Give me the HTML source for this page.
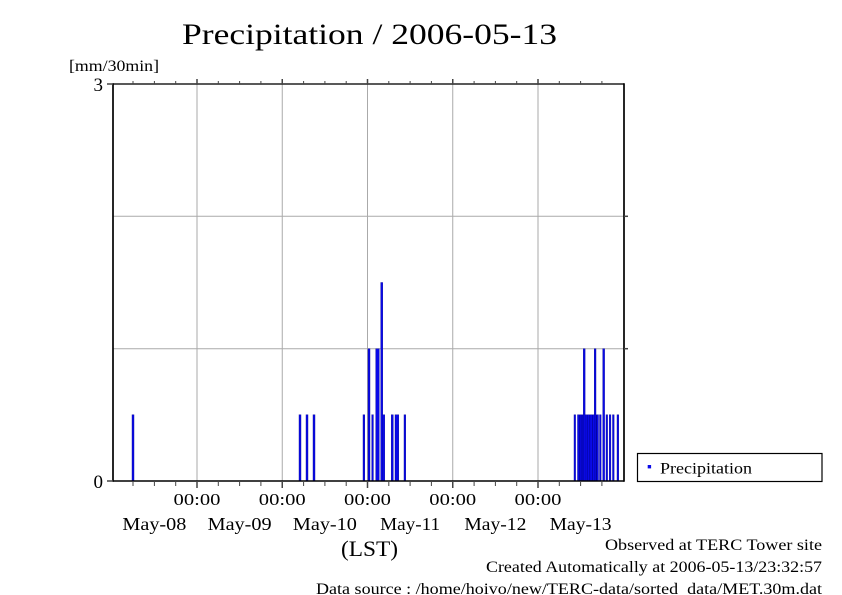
<!DOCTYPE html>
<html>
<head>
<meta charset="utf-8">
<style>
  html, body { margin:0; padding:0; background:#fff; }
  body { width:842px; height:595px; overflow:hidden; }
  svg { display:block; }
  text { font-family: "Liberation Serif", "DejaVu Serif", serif; fill:#000; }
</style>
</head>
<body>
<svg width="842" height="595" viewBox="0 0 842 595" xmlns="http://www.w3.org/2000/svg">
  <rect x="0" y="0" width="842" height="595" fill="#fff"/>

  <!-- Title -->
  <text x="182" y="44" font-size="30" textLength="375" lengthAdjust="spacingAndGlyphs">Precipitation / 2006-05-13</text>
  <!-- Y unit -->
  <text x="69" y="71" font-size="16" textLength="90" lengthAdjust="spacingAndGlyphs">[mm/30min]</text>

  <!-- gridlines -->
  <g stroke="#aaaaaa" stroke-width="1">
    <line x1="197" y1="84" x2="197" y2="481"/>
    <line x1="282.25" y1="84" x2="282.25" y2="481"/>
    <line x1="367.5" y1="84" x2="367.5" y2="481"/>
    <line x1="452.75" y1="84" x2="452.75" y2="481"/>
    <line x1="538" y1="84" x2="538" y2="481"/>
    <line x1="113" y1="216.3" x2="624" y2="216.3"/>
    <line x1="113" y1="348.7" x2="624" y2="348.7"/>
  </g>

  <!-- bars -->
  <g fill="#0a0ae8" stroke="#00009a" stroke-width="0.4">
    <rect x="132" y="414.8" width="2" height="66.2"/>
    <rect x="299" y="414.8" width="2" height="66.2"/>
    <rect x="306" y="414.8" width="2" height="66.2"/>
    <rect x="313" y="414.8" width="2" height="66.2"/>

    <rect x="363" y="414.8" width="1.8" height="66.2"/>
    <rect x="368" y="348.7" width="2" height="132.3"/>
    <rect x="371.7" y="414.8" width="1.7" height="66.2"/>
    <rect x="375.7" y="348.7" width="3.6" height="132.3"/>
    <rect x="380.7" y="282.5" width="2" height="198.5"/>
    <rect x="382.7" y="414.8" width="2" height="66.2"/>
    <rect x="391.3" y="414.8" width="2" height="66.2"/>
    <rect x="395" y="414.8" width="3.7" height="66.2"/>
    <rect x="404" y="414.8" width="1.7" height="66.2"/>

    <rect x="574" y="414.8" width="1.6" height="66.2"/>
    <rect x="577.5" y="414.8" width="21" height="66.2"/>
    <rect x="599.5" y="414.8" width="1.6" height="66.2"/>
    <rect x="606" y="414.8" width="1.6" height="66.2"/>
    <rect x="609.3" y="414.8" width="1.6" height="66.2"/>
    <rect x="612.5" y="414.8" width="1.6" height="66.2"/>
    <rect x="617" y="414.8" width="1.7" height="66.2"/>
    <rect x="583.3" y="348.7" width="1.8" height="132.3"/>
    <rect x="594.2" y="348.7" width="1.8" height="132.3"/>
    <rect x="602.8" y="348.7" width="1.8" height="132.3"/>
  </g>
  <!-- darker separators inside dense block -->
  <g stroke="#00008a" stroke-width="0.6">
    <line x1="579.3" y1="415" x2="579.3" y2="481"/>
    <line x1="581.1" y1="415" x2="581.1" y2="481"/>
    <line x1="582.9" y1="415" x2="582.9" y2="481"/>
    <line x1="587.2" y1="415" x2="587.2" y2="481"/>
    <line x1="589.8" y1="415" x2="589.8" y2="481"/>
    <line x1="592.5" y1="415" x2="592.5" y2="481"/>
    <line x1="596.6" y1="415" x2="596.6" y2="481"/>
  </g>

  <!-- frame -->
  <g stroke="#000" fill="none">
    <line x1="113" y1="84" x2="624" y2="84" stroke-width="1.5" stroke="#222"/>
    <line x1="113" y1="481" x2="624" y2="481" stroke-width="1.5"/>
    <line x1="113" y1="83.3" x2="113" y2="481.7" stroke-width="1.7"/>
    <line x1="624" y1="83.3" x2="624" y2="481.7" stroke-width="1.7"/>
  </g>

  <!-- ticks -->
  <g stroke="#444" stroke-width="1">
    <line x1="133" y1="481" x2="133" y2="486"/><line x1="133" y1="84" x2="133" y2="81"/>
    <line x1="154.4" y1="481" x2="154.4" y2="486"/><line x1="154.4" y1="84" x2="154.4" y2="81"/>
    <line x1="175.7" y1="481" x2="175.7" y2="486"/><line x1="175.7" y1="84" x2="175.7" y2="81"/>
    <line x1="218.3" y1="481" x2="218.3" y2="486"/><line x1="218.3" y1="84" x2="218.3" y2="81"/>
    <line x1="239.6" y1="481" x2="239.6" y2="486"/><line x1="239.6" y1="84" x2="239.6" y2="81"/>
    <line x1="260.9" y1="481" x2="260.9" y2="486"/><line x1="260.9" y1="84" x2="260.9" y2="81"/>
    <line x1="303.6" y1="481" x2="303.6" y2="486"/><line x1="303.6" y1="84" x2="303.6" y2="81"/>
    <line x1="324.9" y1="481" x2="324.9" y2="486"/><line x1="324.9" y1="84" x2="324.9" y2="81"/>
    <line x1="346.2" y1="481" x2="346.2" y2="486"/><line x1="346.2" y1="84" x2="346.2" y2="81"/>
    <line x1="388.8" y1="481" x2="388.8" y2="486"/><line x1="388.8" y1="84" x2="388.8" y2="81"/>
    <line x1="410.1" y1="481" x2="410.1" y2="486"/><line x1="410.1" y1="84" x2="410.1" y2="81"/>
    <line x1="431.4" y1="481" x2="431.4" y2="486"/><line x1="431.4" y1="84" x2="431.4" y2="81"/>
    <line x1="474.1" y1="481" x2="474.1" y2="486"/><line x1="474.1" y1="84" x2="474.1" y2="81"/>
    <line x1="495.4" y1="481" x2="495.4" y2="486"/><line x1="495.4" y1="84" x2="495.4" y2="81"/>
    <line x1="516.7" y1="481" x2="516.7" y2="486"/><line x1="516.7" y1="84" x2="516.7" y2="81"/>
    <line x1="559.3" y1="481" x2="559.3" y2="486"/><line x1="559.3" y1="84" x2="559.3" y2="81"/>
    <line x1="580.6" y1="481" x2="580.6" y2="486"/><line x1="580.6" y1="84" x2="580.6" y2="81"/>
    <line x1="601.9" y1="481" x2="601.9" y2="486"/><line x1="601.9" y1="84" x2="601.9" y2="81"/>
  </g>
  <g stroke="#444" stroke-width="1.5">
    <line x1="197" y1="481" x2="197" y2="488"/><line x1="197" y1="84" x2="197" y2="79"/>
    <line x1="282.25" y1="481" x2="282.25" y2="488"/><line x1="282.25" y1="84" x2="282.25" y2="79"/>
    <line x1="367.5" y1="481" x2="367.5" y2="488"/><line x1="367.5" y1="84" x2="367.5" y2="79"/>
    <line x1="452.75" y1="481" x2="452.75" y2="488"/><line x1="452.75" y1="84" x2="452.75" y2="79"/>
    <line x1="538" y1="481" x2="538" y2="488"/><line x1="538" y1="84" x2="538" y2="79"/>
    <line x1="107" y1="84" x2="113" y2="84"/>
    <line x1="107" y1="481" x2="113" y2="481"/>
    <line x1="624" y1="216.3" x2="628" y2="216.3"/>
    <line x1="624" y1="348.7" x2="628" y2="348.7"/>
  </g>

  <!-- y labels -->
  <text x="103" y="91" font-size="19" text-anchor="end">3</text>
  <text x="103" y="488" font-size="19" text-anchor="end">0</text>

  <!-- x labels -->
  <g font-size="17">
    <text x="173.5" y="505" textLength="47" lengthAdjust="spacingAndGlyphs">00:00</text>
    <text x="258.75" y="505" textLength="47" lengthAdjust="spacingAndGlyphs">00:00</text>
    <text x="344" y="505" textLength="47" lengthAdjust="spacingAndGlyphs">00:00</text>
    <text x="429.25" y="505" textLength="47" lengthAdjust="spacingAndGlyphs">00:00</text>
    <text x="514.5" y="505" textLength="47" lengthAdjust="spacingAndGlyphs">00:00</text>
  </g>
  <g font-size="18">
    <text x="122.4" y="530" textLength="64" lengthAdjust="spacingAndGlyphs">May-08</text>
    <text x="207.6" y="530" textLength="64" lengthAdjust="spacingAndGlyphs">May-09</text>
    <text x="292.9" y="530" textLength="64" lengthAdjust="spacingAndGlyphs">May-10</text>
    <text x="380.1" y="530" textLength="60" lengthAdjust="spacingAndGlyphs">May-11</text>
    <text x="464.4" y="530" textLength="62" lengthAdjust="spacingAndGlyphs">May-12</text>
    <text x="549.6" y="530" textLength="62" lengthAdjust="spacingAndGlyphs">May-13</text>
  </g>
  <text x="341" y="556" font-size="22" textLength="57" lengthAdjust="spacingAndGlyphs">(LST)</text>

  <!-- legend -->
  <rect x="637.5" y="453.5" width="184.5" height="28" fill="#fff" stroke="#000" stroke-width="1.2"/>
  <rect x="647.7" y="465" width="3.4" height="3.4" fill="#0a0ae8"/>
  <text x="660" y="473.5" font-size="16" textLength="92" lengthAdjust="spacingAndGlyphs">Precipitation</text>

  <!-- footer -->
  <text x="822" y="550" font-size="16" text-anchor="end" textLength="217" lengthAdjust="spacingAndGlyphs">Observed at TERC Tower site</text>
  <text x="822" y="572" font-size="16" text-anchor="end" textLength="336" lengthAdjust="spacingAndGlyphs">Created Automatically at 2006-05-13/23:32:57</text>
  <text x="822" y="594" font-size="16" text-anchor="end" textLength="506" lengthAdjust="spacingAndGlyphs" xml:space="preserve">Data source : /home/hoivo/new/TERC-data/sorted  data/MET.30m.dat</text>
</svg>
</body>
</html>
